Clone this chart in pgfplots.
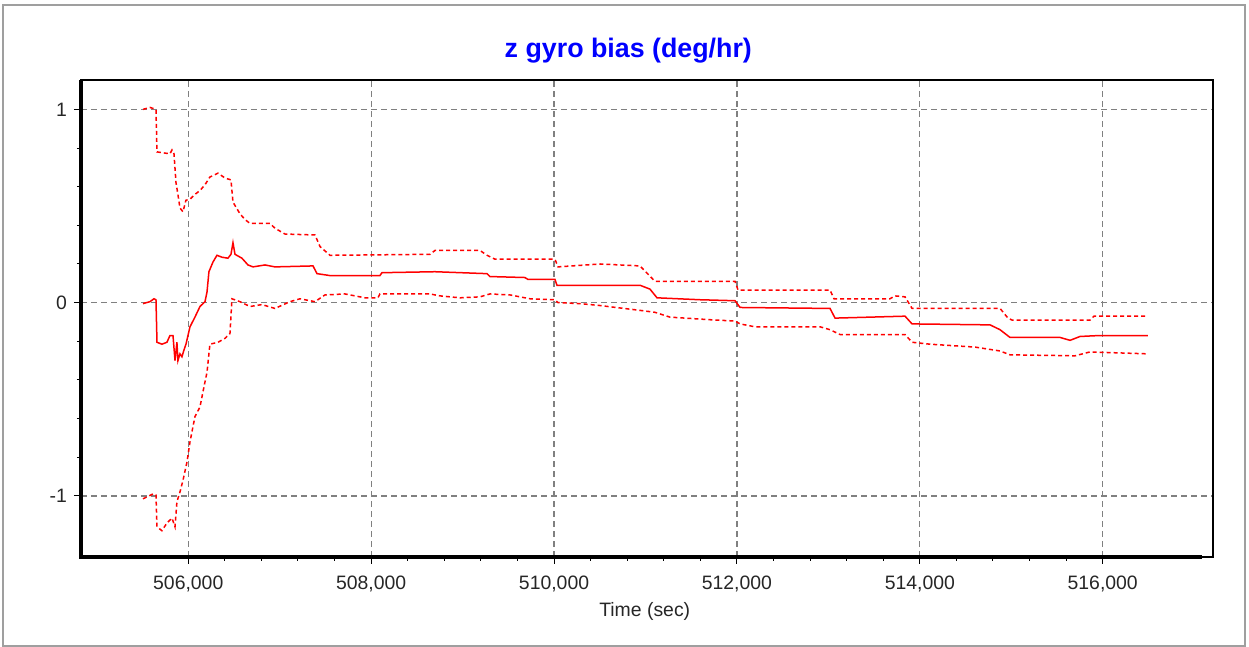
\documentclass[border=0pt]{standalone}
\usepackage{fontspec}
\setmainfont{Liberation Sans}
\usepackage{pgfplots}
\pgfplotsset{compat=1.18}
\begin{document}
\begin{tikzpicture}
\begin{axis}[
  at={(0,0)}, anchor=south west,
  scale only axis, width=566pt, height=238.5pt,
  xmin=504827, xmax=517206, ymin=-1.316, ymax=1.152,
  scaled x ticks=false, scaled y ticks=false,
  xtick={506000,508000,510000,512000,514000,516000},
  xticklabels={{506,000},{508,000},{510,000},{512,000},{514,000},{516,000}},
  ytick={-1,0,1}, yticklabels={-1,0,1},
  minor x tick num=4, minor y tick num=4,
  tick pos=left, tick align=outside,
  major tick length=3.5pt, minor tick length=2pt,
  tick style={black, line width=0.5pt},
  grid=major,
  major grid style={black!50, dash pattern=on 3pt off 2pt, line width=0.65pt},
  axis line style={black, line width=0.6pt},
  ticklabel style={font=\fontsize{9.7}{11}\selectfont, text=black!85},
  xticklabel style={yshift=-2.5pt},
  /pgf/number format/assume math mode=true,
  title={z gyro bias (deg/hr)},
  title style={font=\bfseries\fontsize{13.4}{16}\selectfont, text=blue, at={(rel axis cs:0.4835,1)}, anchor=center, yshift=8.5pt},
  xlabel={Time (sec)},
  xlabel style={font=\fontsize{9.7}{11}\selectfont, text=black!85, at={(rel axis cs:0.498,0)}, anchor=center, yshift=-27pt},
  after end axis/.code={
    \draw[black, line width=1.6pt] (rel axis cs:0,1) -- (rel axis cs:0,0) -- (rel axis cs:0.99,0);
  },
]
% upper bound (dashed)
\addplot[red, line width=0.75pt, dash pattern=on 2pt off 1.5pt] coordinates {
(505505,1.00) (505581,1.01) (505647,1.00) (505658,0.78) (505800,0.77) (505822,0.79) (505844,0.77)
(505866,0.62) (505887,0.56) (505909,0.49) (505942,0.47) (505975,0.53) (506019,0.535) (506073,0.56)
(506128,0.58) (506183,0.61) (506237,0.65) (506325,0.67) (506401,0.645) (506467,0.635) (506489,0.52)
(506565,0.46) (506620,0.43) (506675,0.41) (506894,0.41) (506948,0.385) (507058,0.355) (507386,0.35)
(507441,0.29) (507550,0.245) (508643,0.25) (508698,0.27) (509190,0.27) (509267,0.245) (509354,0.225)
(510010,0.225) (510043,0.185) (510503,0.20) (510940,0.19) (511104,0.11) (511979,0.11) (512012,0.065)
(513018,0.065) (513062,0.02) (513673,0.02) (513728,0.035) (513838,0.03) (513915,-0.03) (514877,-0.03)
(514964,-0.08) (515008,-0.09) (515861,-0.09) (515905,-0.07) (516495,-0.07)
};
% estimate (solid)
\addplot[red, line width=0.75pt] coordinates {
(505505,-0.005) (505581,0.005) (505625,0.02) (505647,0.015) (505658,-0.205) (505712,-0.215) (505767,-0.205)
(505800,-0.17) (505833,-0.17) (505855,-0.30) (505876,-0.205) (505887,-0.30) (505909,-0.265) (505931,-0.28)
(505953,-0.245) (505975,-0.215) (505997,-0.17) (506019,-0.125) (506073,-0.075) (506128,-0.02) (506183,0.005)
(506205,0.055) (506226,0.16) (506270,0.21) (506314,0.245) (506369,0.235) (506434,0.23) (506467,0.25)
(506489,0.31) (506511,0.25) (506587,0.23) (506653,0.195) (506708,0.185) (506839,0.195) (506948,0.185)
(507364,0.19) (507408,0.15) (507550,0.14) (508096,0.14) (508118,0.155) (508698,0.16) (509267,0.15)
(509299,0.135) (509682,0.13) (509715,0.12) (510010,0.12) (510032,0.09) (510940,0.09) (511049,0.07)
(511126,0.025) (511597,0.015) (511979,0.01) (512034,-0.025) (513018,-0.03) (513073,-0.08) (513838,-0.07)
(513915,-0.11) (514768,-0.115) (514877,-0.14) (514986,-0.18) (515533,-0.18) (515643,-0.195) (515752,-0.175)
(515970,-0.17) (516495,-0.17)
};
% lower bound (dashed)
\addplot[red, line width=0.75pt, dash pattern=on 2pt off 1.5pt] coordinates {
(505505,-1.015) (505614,-0.99) (505647,-0.995) (505658,-1.16) (505712,-1.18) (505767,-1.14) (505822,-1.115)
(505855,-1.16) (505876,-1.03) (505909,-0.98) (505942,-0.92) (505986,-0.825) (506019,-0.72) (506073,-0.59)
(506128,-0.54) (506172,-0.435) (506205,-0.36) (506237,-0.215) (506325,-0.205) (506401,-0.185) (506456,-0.16)
(506478,0.02) (506565,0.005) (506675,-0.02) (506806,-0.01) (506948,-0.03) (507112,0.005) (507222,0.02)
(507386,0.005) (507495,0.04) (507713,0.045) (507932,0.025) (508074,0.025) (508096,0.045) (508643,0.045)
(508753,0.035) (508971,0.025) (509190,0.03) (509299,0.045) (509518,0.04) (509737,0.02) (510010,0.015)
(510043,0.0) (510284,-0.005) (510503,-0.015) (510940,-0.04) (511104,-0.05) (511268,-0.075) (511760,-0.09)
(511979,-0.095) (512034,-0.11) (512198,-0.125) (512909,-0.125) (513018,-0.14) (513128,-0.165) (513838,-0.165)
(513915,-0.205) (514112,-0.215) (514604,-0.23) (514877,-0.25) (514986,-0.27) (515697,-0.275) (515861,-0.255)
(516495,-0.265)
};
\end{axis}
\draw[gray!75, line width=0.8pt] (-39pt,-44.5pt) rectangle (582pt,276pt);
\pgfresetboundingbox
\path (-40.5pt,-45pt) rectangle (584pt,278.5pt);
\end{tikzpicture}
\end{document}
